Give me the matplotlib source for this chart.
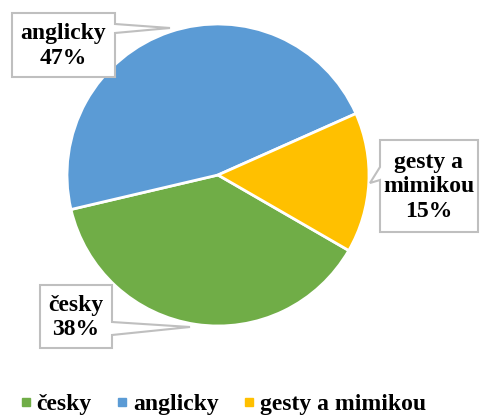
import matplotlib.pyplot as plt
from matplotlib.patches import Polygon
from matplotlib.lines import Line2D

# data
labels = ["česky", "anglicky", "gesty a mimikou"]
values = [38, 47, 15]
colors = ["#70AD47", "#5B9BD5", "#FFC000"]
box_texts = ["česky\n38%", "anglicky\n47%", "gesty a\nmimikou\n15%"]

W, H = 481, 416
fig = plt.figure(figsize=(W / 100, H / 100), dpi=100)
plt.rcParams['font.family'] = ['Liberation Serif', 'DejaVu Serif']

# pie centre and radius in pixels
cx, cy, r = 218, 175, 151
ax = fig.add_axes([(cx - r) / W, (H - cy - r) / H, 2 * r / W, 2 * r / H])
ax.pie(values, colors=colors, startangle=-30, counterclock=False,
       wedgeprops=dict(edgecolor="white", linewidth=2.0))
ax.set_xlim(-1, 1)
ax.set_ylim(-1, 1)
ax.set_aspect("auto")

# overlay in pixel coords for callouts
ov = fig.add_axes([0, 0, 1, 1], facecolor="none")
ov.set_xlim(0, W)
ov.set_ylim(H, 0)
ov.axis("off")

# callout boxes: (x0, y0, x1, y1), side, attach1, tip, attach2
callouts = [
    ((40, 285, 112, 348), "right", 322, (190, 327), 335),
    ((12, 13, 115, 77), "right", 24, (170, 28), 33),
    ((380, 140, 478, 232), "left", 167, (370, 183), 180),
]

for (x0, y0, x1, y1), side, a1, tip, a2 in callouts:
    if side == "right":
        pts = [(x0, y0), (x1, y0), (x1, a1), tip, (x1, a2), (x1, y1), (x0, y1)]
    else:
        pts = [(x0, y0), (x1, y0), (x1, y1), (x0, y1), (x0, a2), tip, (x0, a1)]
    ov.add_patch(Polygon(pts, closed=True, facecolor="white",
                         edgecolor="#BFBFBF", linewidth=1.5))

for (box, *_), txt in zip(callouts, box_texts):
    x0, y0, x1, y1 = box
    ov.text((x0 + x1) / 2, (y0 + y1) / 2 + 1, txt, ha="center", va="center",
            fontsize=17, fontweight="bold", linespacing=1.2)

handles = [Line2D([], [], marker="s", linestyle="none", markersize=5.5,
                  markerfacecolor=c, markeredgecolor=c) for c in colors]
fig.legend(handles, labels, loc="center", bbox_to_anchor=(0.465, 1 - 404 / H),
           ncol=3, frameon=False, handlelength=0.4, handletextpad=0.25,
           columnspacing=1.1,
           prop=dict(family="Liberation Serif", weight="bold", size=17))

fig.savefig("out.png", dpi=100)
